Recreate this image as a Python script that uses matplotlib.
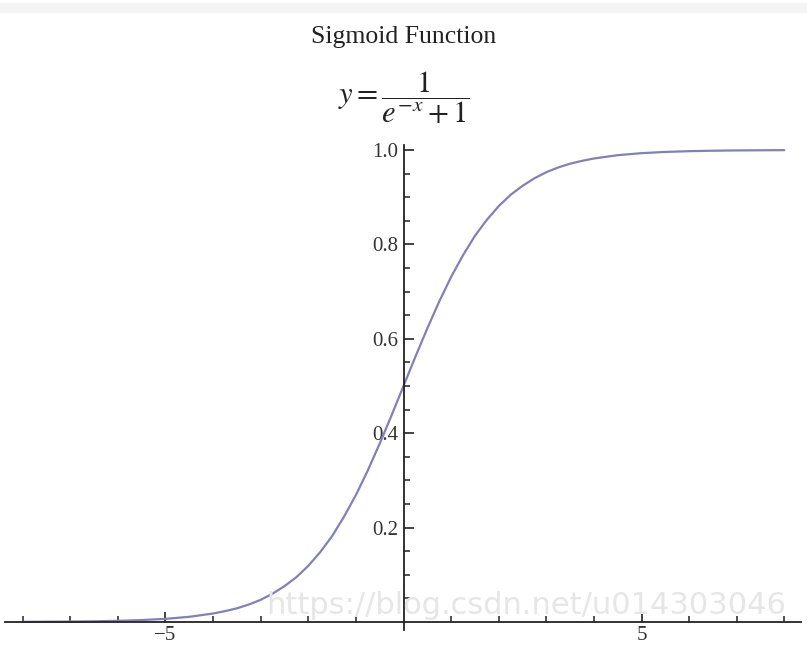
import matplotlib
matplotlib.use("Agg")
import matplotlib.pyplot as plt
from matplotlib.ticker import FixedLocator
from matplotlib.patches import Rectangle

plt.rcParams['mathtext.fontset'] = 'stix'
plt.rcParams['font.family'] = ['Liberation Serif', 'DejaVu Serif']

# values
x_vals = [-8, -7.5, -7, -6.5, -6, -5.5, -5, -4.5, -4, -3.75, -3.5, -3.25, -3,
          -2.75, -2.5, -2.25, -2, -1.75, -1.5, -1.25, -1, -0.75, -0.5, -0.25, 0,
          0.25, 0.5, 0.75, 1, 1.25, 1.5, 1.75, 2, 2.25, 2.5, 2.75, 3, 3.25, 3.5,
          3.75, 4, 4.5, 5, 5.5, 6, 6.5, 7, 7.5, 8]
y_vals = [0.0003, 0.0006, 0.0009, 0.0015, 0.0025, 0.0041, 0.0067, 0.011, 0.018,
          0.023, 0.029, 0.037, 0.047, 0.060, 0.076, 0.095, 0.119, 0.148, 0.182,
          0.223, 0.269, 0.321, 0.378, 0.438, 0.500, 0.562, 0.622, 0.679, 0.731,
          0.777, 0.818, 0.852, 0.881, 0.905, 0.924, 0.940, 0.953, 0.963, 0.971,
          0.977, 0.982, 0.989, 0.9933, 0.9959, 0.9975, 0.9985, 0.9991, 0.9994, 0.9997]

x_major = [-5, 5]
x_minor = [-8, -7, -6, -4, -3, -2, -1, 1, 2, 3, 4, 6, 7, 8]
y_major = [0.2, 0.4, 0.6, 0.8, 1.0]
y_minor = [0.05, 0.1, 0.15, 0.25, 0.3, 0.35, 0.45, 0.5, 0.55, 0.65, 0.7, 0.75,
           0.85, 0.9, 0.95]
y_labels = ['0.2', '0.4', '0.6', '0.8', '1.0']
x_labels = ['\u22125', '5']

W, H = 807, 647
fig = plt.figure(figsize=(W / 100, H / 100), dpi=100)
fig.patch.set_facecolor('white')
ax = fig.add_axes([0, 0, 1, 1])
ax.set_facecolor('none')

x0, ux = 403.5, 47.6
y0, uy = 622.0, 472.0
ax.set_xlim(-x0 / ux, (W - x0) / ux)
ax.set_ylim(-(H - y0) / uy, y0 / uy)

# light gray strip at top
fig.patches.append(Rectangle((0, 1 - 13 / H), 1, 10 / H, transform=fig.transFigure,
                             facecolor='#f4f4f4', edgecolor='none', zorder=0))

# watermark
fig.text(266 / W, 1 - 605 / H, 'https://blog.csdn.net/u014303046', fontsize=22,
         family='DejaVu Sans', color='#e6e6e6', ha='left', va='center', zorder=0)

ax.plot(x_vals, y_vals, color='#8280b8', lw=1.6, zorder=3, solid_capstyle='round')

for s in ['top', 'right']:
    ax.spines[s].set_visible(False)
ax.spines['left'].set_position(('data', 0))
ax.spines['bottom'].set_position(('data', 0))
ax.spines['left'].set_bounds(-8 / uy, 1.01)
ax.spines['bottom'].set_bounds(-398 / ux, 397 / ux)
for s in ['left', 'bottom']:
    ax.spines[s].set_linewidth(1.3)
    ax.spines[s].set_color('#222222')
    ax.spines[s].set_zorder(4)

ax.xaxis.set_major_locator(FixedLocator(x_major))
ax.xaxis.set_minor_locator(FixedLocator(x_minor))
ax.set_xticklabels(x_labels)
ax.yaxis.set_major_locator(FixedLocator(y_major))
ax.yaxis.set_minor_locator(FixedLocator(y_minor))
ax.set_yticklabels(y_labels)

ax.tick_params(axis='both', which='major', direction='in', length=7, width=1.2,
               color='#222222', labelsize=15, labelcolor='#333333')
ax.tick_params(axis='both', which='minor', direction='in', length=4, width=1.1,
               color='#222222')
ax.tick_params(axis='y', which='major', pad=4)
ax.tick_params(axis='x', which='major', pad=3)

fig.text(0.5, 1 - 37 / H, 'Sigmoid Function', fontsize=18.5, ha='center', va='center',
         color='#222222')
fig.text(0.5, 1 - 98 / H, r'$y=\dfrac{1}{e^{-x}+1}$', fontsize=22, ha='center',
         va='center', color='#222222')

fig.savefig('out.png', dpi=100)
